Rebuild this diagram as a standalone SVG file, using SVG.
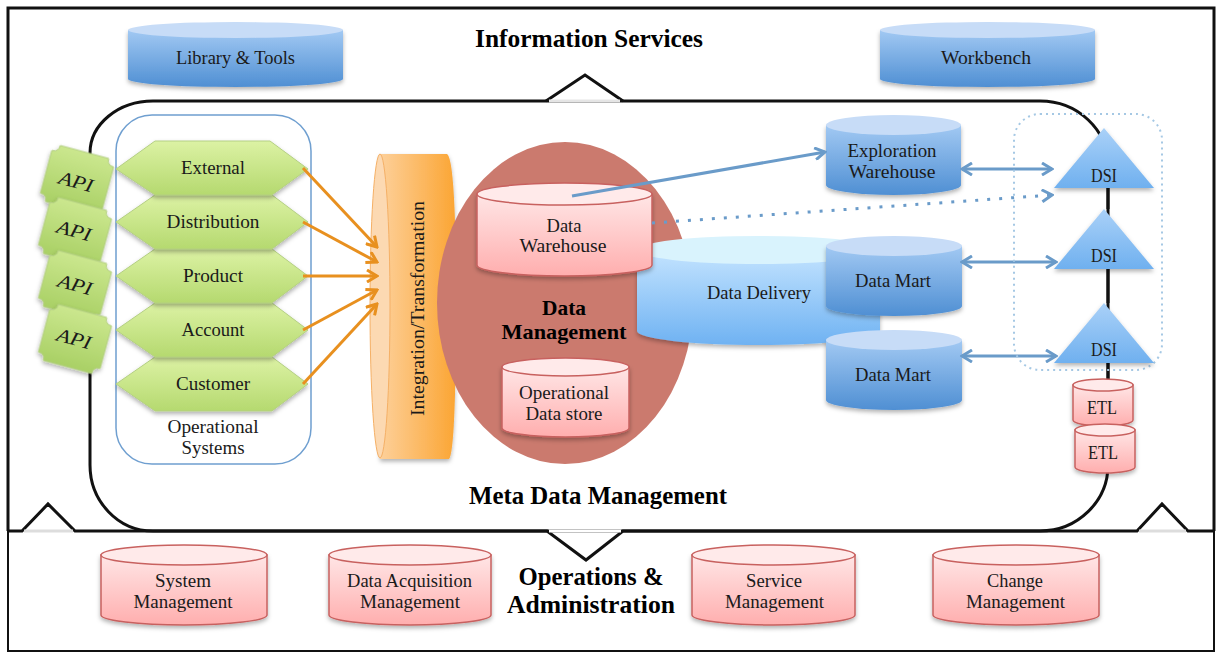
<svg xmlns="http://www.w3.org/2000/svg" width="1216" height="652" viewBox="0 0 1216 652">
<style>
text{font-family:"Liberation Serif","DejaVu Serif",serif;fill:#1a1a1a;text-anchor:middle;font-size:19px}
.b{font-weight:bold;font-size:25px;fill:#000}
.bm{font-weight:bold;font-size:22px;fill:#000}
.blue{fill:url(#gb);filter:url(#sh)}
.bluetop{fill:#c7dcf7}
.pink{fill:url(#gp);stroke:#c8615f;stroke-width:1.5;filter:url(#sh)}
.pinktop{fill:#ffeaea;stroke:#c8615f;stroke-width:1.5}
.hex{fill:url(#gg);stroke:#b4cf83;stroke-width:1;filter:url(#sh)}
.api{fill:url(#gg2);stroke:#b4cf83;stroke-width:1;filter:url(#sh)}
.tri{fill:url(#gt);filter:url(#sh)}
.or{fill:none;stroke:#e8901f;stroke-width:3}
.bl{fill:none;stroke:#6a9bc9;stroke-width:3}
.frame{fill:none;stroke:#111;stroke-width:3}
</style>
<defs>
<linearGradient id="gb" x1="0" y1="0" x2="0" y2="1"><stop offset="0" stop-color="#a2c9f3"/><stop offset="1" stop-color="#4f8fd3"/></linearGradient>
<linearGradient id="gp" x1="0" y1="0" x2="0" y2="1"><stop offset="0" stop-color="#ffe6e6"/><stop offset="1" stop-color="#ffaeae"/></linearGradient>
<linearGradient id="gg" x1="0" y1="0" x2="0" y2="1"><stop offset="0" stop-color="#dcf2a4"/><stop offset="1" stop-color="#b5d96f"/></linearGradient>
<linearGradient id="gg2" x1="0" y1="0" x2="0" y2="1"><stop offset="0" stop-color="#cbe78e"/><stop offset="1" stop-color="#a9d065"/></linearGradient>
<linearGradient id="gt" x1="0" y1="0" x2="0" y2="1"><stop offset="0" stop-color="#aad1f8"/><stop offset="1" stop-color="#6fb0ef"/></linearGradient>
<linearGradient id="gd" x1="0" y1="0" x2="0" y2="1"><stop offset="0" stop-color="#c4e4ff"/><stop offset="1" stop-color="#6fb2f2"/></linearGradient>
<linearGradient id="go" x1="0" y1="0" x2="1" y2="0"><stop offset="0" stop-color="#fdd09a"/><stop offset="1" stop-color="#fba533"/></linearGradient>
<filter id="sh" x="-15%" y="-15%" width="130%" height="130%"><feDropShadow dx="0" dy="2.5" stdDeviation="2" flood-color="#000" flood-opacity=".3"/></filter>
<marker id="ao" viewBox="0 0 14 14" refX="12" refY="7" markerWidth="14" markerHeight="14" markerUnits="userSpaceOnUse" orient="auto"><path d="M2,1 L12,7 L2,13" fill="none" stroke="#e8901f" stroke-width="3"/></marker>
<marker id="ab" viewBox="0 0 14 14" refX="12" refY="7" markerWidth="14" markerHeight="14" markerUnits="userSpaceOnUse" orient="auto"><path d="M2,1 L12,7 L2,13" fill="none" stroke="#6a9bc9" stroke-width="3"/></marker>
<marker id="abs" viewBox="0 0 14 14" refX="12" refY="7" markerWidth="14" markerHeight="14" markerUnits="userSpaceOnUse" orient="auto-start-reverse"><path d="M2,1 L12,7 L2,13" fill="none" stroke="#6a9bc9" stroke-width="3"/></marker>
<path id="plaque" d="M-32,-22 Q-25,-22 -25,-29 H25 Q25,-22 32,-22 V22 Q25,22 25,29 H-25 Q-25,22 -32,22 Z"/>
</defs>
<rect width="1216" height="652" fill="#fff"/>
<g id="frames">
<path class="frame" d="M8,531 V8 H1214 V531"/>
<path d="M8,531 V651 H1214 V531" fill="none" stroke="#111" stroke-width="2"/>
<path d="M90,153 A63,52 0 0 1 153,101 H1040 A68,64 0 0 1 1108,165 V465 A68,66 0 0 1 1040,531 H153 A63,66 0 0 1 90,465 Z" fill="#fff" stroke="#111" stroke-width="3"/>
<path class="frame" d="M8,531 H22 L48,504 L75,531 H547 L586,560 L623,531 H1137 L1162,504 L1188,531 H1214"/>
<path d="M549,531 H621" stroke="#fff" stroke-width="3"/>
<path d="M24,531 H73 M1139,531 H1186" stroke="#ddd" stroke-width="3"/>
<path d="M546,101 L585,75 L623,101" fill="#fff" stroke="#111" stroke-width="3"/>
<path d="M549,101 H620" stroke="#e5e5e5" stroke-width="3"/>
</g>
<g id="title-info"><text class="b" x="589" y="47" textLength="228" lengthAdjust="spacingAndGlyphs">Information Services</text></g>
<g id="library"><path class="blue" d="M128,30 V79 A107.5,8 0 0 0 343,79 V30 Z"/><ellipse class="bluetop" cx="235.5" cy="30" rx="107.5" ry="8"/><text x="235.5" y="64" textLength="119" lengthAdjust="spacingAndGlyphs">Library &amp; Tools</text></g>
<g id="workbench"><path class="blue" d="M880,30 V79 A107.5,8 0 0 0 1095,79 V30 Z"/><ellipse class="bluetop" cx="987.5" cy="30" rx="107.5" ry="8"/><text x="986" y="64" textLength="90" lengthAdjust="spacingAndGlyphs">Workbench</text></g>
<g id="opsys"><rect x="116" y="115" width="195" height="349" rx="36" fill="#fff" stroke="#6f9fd0" stroke-width="1.5"/><text x="213" y="433" textLength="91" lengthAdjust="spacingAndGlyphs">Operational</text><text x="213" y="454" textLength="63" lengthAdjust="spacingAndGlyphs">Systems</text></g>
<g id="api1"><use href="#plaque" class="api" transform="translate(77,180) rotate(15)"/><text x="76" y="188" font-style="italic" transform="rotate(15 76 182)" textLength="35" lengthAdjust="spacingAndGlyphs">API</text></g>
<g id="api2"><use href="#plaque" class="api" transform="translate(75,232) rotate(15)"/><text x="74" y="237" font-style="italic" transform="rotate(15 74 231)" textLength="35" lengthAdjust="spacingAndGlyphs">API</text></g>
<g id="api3"><use href="#plaque" class="api" transform="translate(75,285) rotate(15)"/><text x="75" y="291" font-style="italic" transform="rotate(15 75 285)" textLength="35" lengthAdjust="spacingAndGlyphs">API</text></g>
<g id="api4"><use href="#plaque" class="api" transform="translate(75,339) rotate(15)"/><text x="74" y="345" font-style="italic" transform="rotate(15 74 339)" textLength="35" lengthAdjust="spacingAndGlyphs">API</text></g>
<g id="customer"><path class="hex" d="M116,384 L155,357 H272 L308,384 L272,411 H155 Z"/><text x="213" y="390" textLength="74" lengthAdjust="spacingAndGlyphs">Customer</text></g>
<g id="account"><path class="hex" d="M116,330 L155,303 H272 L308,330 L272,357 H155 Z"/><text x="213" y="336" textLength="63" lengthAdjust="spacingAndGlyphs">Account</text></g>
<g id="product"><path class="hex" d="M116,276 L155,249 H272 L308,276 L272,303 H155 Z"/><text x="213" y="282" textLength="60" lengthAdjust="spacingAndGlyphs">Product</text></g>
<g id="distribution"><path class="hex" d="M116,222 L155,195 H272 L308,222 L272,249 H155 Z"/><text x="213" y="228" textLength="93" lengthAdjust="spacingAndGlyphs">Distribution</text></g>
<g id="external"><path class="hex" d="M116,169 L155,141 H270 L308,169 L272,195 H155 Z"/><text x="213" y="174" textLength="64" lengthAdjust="spacingAndGlyphs">External</text></g>
<g id="integration"><path d="M380,154 H447 Q456,160 456,300 Q456,452 449,459 H380 Z" fill="url(#go)" filter="url(#sh)"/><ellipse cx="380" cy="306" rx="10" ry="152" fill="#fcd9b2" stroke="#f5b066" stroke-width="1"/><text x="0" y="0" transform="translate(424,308.500) rotate(-90)" textLength="215" lengthAdjust="spacingAndGlyphs">Integration/Transformation</text></g>
<g id="data-mgmt"><ellipse cx="565" cy="303" rx="128" ry="161" fill="#cb7a6e"/><text class="bm" x="564" y="315" textLength="44" lengthAdjust="spacingAndGlyphs">Data</text><text class="bm" x="564" y="339" textLength="125" lengthAdjust="spacingAndGlyphs">Management</text></g>
<g id="data-delivery"><path d="M637,250 V331 A121.500,14 0 0 0 880,331 V250 Z" fill="url(#gd)" filter="url(#sh)"/><ellipse cx="758.500" cy="250" rx="121.500" ry="14" fill="#d9f3fd"/><text x="759" y="299" textLength="104" lengthAdjust="spacingAndGlyphs">Data Delivery</text></g>
<g id="data-warehouse"><path class="pink" d="M477,194 V265 A87.500,11 0 0 0 652,265 V194 Z"/><ellipse class="pinktop" cx="564.500" cy="194" rx="87.500" ry="11"/><text x="564" y="232" textLength="35" lengthAdjust="spacingAndGlyphs">Data</text><text x="563" y="252" textLength="87" lengthAdjust="spacingAndGlyphs">Warehouse</text></g>
<g id="ods"><path class="pink" d="M502,367 V428 A63.500,9 0 0 0 629,428 V367 Z"/><ellipse class="pinktop" cx="565.500" cy="367" rx="63.500" ry="9"/><text x="564" y="399" textLength="90" lengthAdjust="spacingAndGlyphs">Operational</text><text x="564" y="420" textLength="77" lengthAdjust="spacingAndGlyphs">Data store</text></g>
<g id="exploration"><path class="blue" d="M826,125 V185 A67.500,10 0 0 0 961,185 V125 Z"/><ellipse class="bluetop" cx="893.500" cy="125" rx="67.500" ry="10"/><text x="892" y="157" textLength="89" lengthAdjust="spacingAndGlyphs">Exploration</text><text x="892" y="178" textLength="87" lengthAdjust="spacingAndGlyphs">Warehouse</text></g>
<g id="mart1"><path class="blue" d="M826,246 V306 A68,10 0 0 0 962,306 V246 Z"/><ellipse class="bluetop" cx="894" cy="246" rx="68" ry="10"/><text x="893" y="287" textLength="76" lengthAdjust="spacingAndGlyphs">Data Mart</text></g>
<g id="mart2"><path class="blue" d="M826,340 V400 A68,10 0 0 0 962,400 V340 Z"/><ellipse class="bluetop" cx="894" cy="340" rx="68" ry="10"/><text x="893" y="381" textLength="76" lengthAdjust="spacingAndGlyphs">Data Mart</text></g>
<g id="connectors">
<path class="or" marker-end="url(#ao)" d="M303,168 L377,247"/>
<path class="or" marker-end="url(#ao)" d="M303,222 L377,262"/>
<path class="or" marker-end="url(#ao)" d="M303,276 H377"/>
<path class="or" marker-end="url(#ao)" d="M303,330 L377,290"/>
<path class="or" marker-end="url(#ao)" d="M303,384 L377,304"/>
<path class="bl" marker-end="url(#ab)" d="M572,196 L825,152"/>
<path class="bl" stroke-dasharray="3 9" marker-end="url(#ab)" d="M652,223 L1052,195"/>
<path class="bl" marker-start="url(#abs)" marker-end="url(#abs)" d="M962,169 H1052"/>
<path class="bl" marker-start="url(#abs)" marker-end="url(#abs)" d="M962,262 H1056"/>
<path class="bl" marker-start="url(#abs)" marker-end="url(#abs)" d="M962,356 H1056"/>
<path d="M1108,188 V209 M1108,269 V303 M1108,363 V380" fill="none" stroke="#111" stroke-width="3"/>
</g>
<g id="dsi-group"><rect x="1014" y="114" width="148" height="256" rx="26" fill="none" stroke="#a5c8e4" stroke-width="2" stroke-dasharray="2 4"/></g>
<g id="dsi1"><path class="tri" d="M1104,128 L1154,188 H1054 Z"/><text x="1104" y="182" textLength="26" lengthAdjust="spacingAndGlyphs">DSI</text></g>
<g id="dsi2"><path class="tri" d="M1104,209 L1154,269 H1054 Z"/><text x="1104" y="262" textLength="26" lengthAdjust="spacingAndGlyphs">DSI</text></g>
<g id="dsi3"><path class="tri" d="M1104,303 L1154,363 H1054 Z"/><text x="1104" y="356" textLength="26" lengthAdjust="spacingAndGlyphs">DSI</text></g>
<g id="etl1"><path class="pink" d="M1073,385 V420 A30,6 0 0 0 1133,420 V385 Z"/><ellipse class="pinktop" cx="1103" cy="385" rx="30" ry="6"/><text x="1102" y="414" textLength="30" lengthAdjust="spacingAndGlyphs">ETL</text></g>
<g id="etl2"><path class="pink" d="M1075,430 V467 A30,6 0 0 0 1135,467 V430 Z"/><ellipse class="pinktop" cx="1105" cy="430" rx="30" ry="6"/><text x="1103" y="459" textLength="30" lengthAdjust="spacingAndGlyphs">ETL</text></g>
<g id="title-meta"><text class="b" x="598" y="504" textLength="258" lengthAdjust="spacingAndGlyphs">Meta Data Management</text></g>
<g id="title-ops"><text class="b" x="591" y="585" textLength="145" lengthAdjust="spacingAndGlyphs">Operations &amp;</text><text class="b" x="591" y="613" textLength="168" lengthAdjust="spacingAndGlyphs">Administration</text></g>
<g id="system-mgmt"><path class="pink" d="M101,555 V615 A83,10 0 0 0 267,615 V555 Z"/><ellipse class="pinktop" cx="184" cy="555" rx="83" ry="10"/><text x="183" y="587" textLength="56" lengthAdjust="spacingAndGlyphs">System</text><text x="183" y="608" textLength="99" lengthAdjust="spacingAndGlyphs">Management</text></g>
<g id="acq-mgmt"><path class="pink" d="M329,555 V615 A81,10 0 0 0 491,615 V555 Z"/><ellipse class="pinktop" cx="410" cy="555" rx="81" ry="10"/><text x="409.500" y="587" textLength="125" lengthAdjust="spacingAndGlyphs">Data Acquisition</text><text x="410" y="608" textLength="100" lengthAdjust="spacingAndGlyphs">Management</text></g>
<g id="service-mgmt"><path class="pink" d="M692,555 V615 A81.500,10 0 0 0 855,615 V555 Z"/><ellipse class="pinktop" cx="773.500" cy="555" rx="81.500" ry="10"/><text x="774" y="587" textLength="56" lengthAdjust="spacingAndGlyphs">Service</text><text x="774.500" y="608" textLength="99" lengthAdjust="spacingAndGlyphs">Management</text></g>
<g id="change-mgmt"><path class="pink" d="M933,555 V615 A83,10 0 0 0 1099,615 V555 Z"/><ellipse class="pinktop" cx="1016" cy="555" rx="83" ry="10"/><text x="1015" y="587" textLength="56" lengthAdjust="spacingAndGlyphs">Change</text><text x="1015.500" y="608" textLength="99" lengthAdjust="spacingAndGlyphs">Management</text></g>
</svg>
